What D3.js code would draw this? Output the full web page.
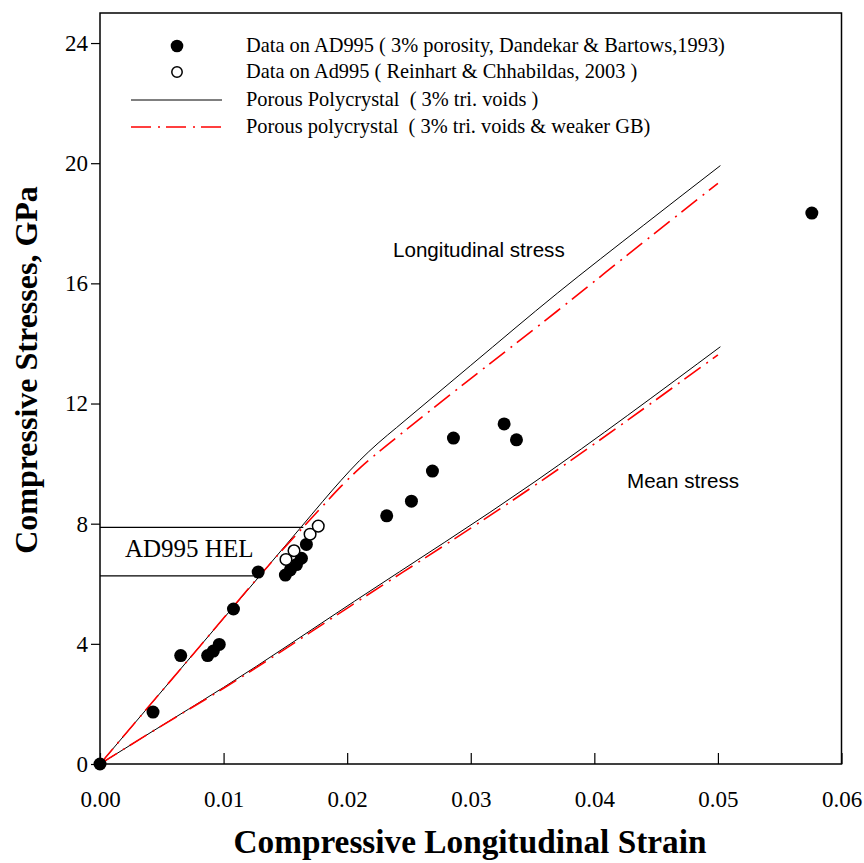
<!DOCTYPE html>
<html>
<head>
<meta charset="utf-8">
<script src="https://cdn.jsdelivr.net/npm/d3@7/dist/d3.min.js"></script>
<style>
  body { margin: 0; background: #fff; }
  text { white-space: pre; }
</style>
</head>
<body>
<svg id="chart" width="864" height="863"></svg>
<script>
'use strict';

// strain, GPa
var dandekarData = [
    [0, 0], [0.00429, 1.73], [0.00653, 3.61], [0.00871, 3.61], [0.00917, 3.76],
    [0.00965, 3.98], [0.0108, 5.16], [0.0128, 6.39], [0.0150, 6.29], [0.0154, 6.46],
    [0.0159, 6.64], [0.0163, 6.85], [0.0167, 7.31], [0.0232, 8.26], [0.0252, 8.75],
    [0.0269, 9.75], [0.0286, 10.85], [0.0327, 11.32], [0.0337, 10.79], [0.0576, 18.34]
];
var reinhartData = [[0.01505, 6.81], [0.0157, 7.10], [0.0170, 7.65], [0.01766, 7.92]];

var longSolid = [
    [0, 0], [0.008, 3.88], [0.0163, 7.90], [0.0180, 8.73], [0.0195, 9.44], [0.0210, 10.10],
    [0.0225, 10.68], [0.0240, 11.20], [0.0300, 13.27], [0.0370, 15.67], [0.0440, 17.94], [0.0502, 19.92]
];
var longWeakGB = [
    [0, 0], [0.008, 3.88], [0.01375, 6.66], [0.0163, 7.82], [0.0180, 8.58], [0.0195, 9.24],
    [0.0210, 9.84], [0.0225, 10.37], [0.0240, 10.87], [0.0260, 11.53], [0.0300, 12.83],
    [0.0370, 15.08], [0.0440, 17.38], [0.0500, 19.33]
];
var meanSolid = [[0, 0], [0.0043, 1.10], [0.010, 2.55], [0.0206, 5.42], [0.0352, 9.40], [0.0502, 13.89]];
var meanWeakGB = [[0, 0], [0.0043, 1.10], [0.010, 2.52], [0.0202, 5.24], [0.0352, 9.28], [0.0500, 13.62]];

var helLevels = [[0.01645, 7.88], [0.0124, 6.26]];

var xTicks = [0, 0.01, 0.02, 0.03, 0.04, 0.05, 0.06];
var yTicks = [0, 4, 8, 12, 16, 20, 24];

var legendLabels = [
    'Data on AD995 ( 3% porosity, Dandekar & Bartows,1993)',
    'Data on Ad995 ( Reinhart & Chhabildas, 2003 )',
    'Porous Polycrystal  ( 3% tri. voids )',
    'Porous polycrystal  ( 3% tri. voids & weaker GB)'
];

var serif = '"Liberation Serif", "Times New Roman", serif';
var sans = '"Liberation Sans", Arial, sans-serif';
var dashDot = '20,7,2,6';

var svg = d3.select('#chart');
var plotLeft = 100, plotTop = 13, plotRight = 841.5, plotBottom = 764;

var x = d3.scaleLinear().domain([0, 0.06]).range([plotLeft, plotRight]);
var y = d3.scaleLinear().domain([0, 25]).range([plotBottom, plotTop]);

var line = d3.line()
    .x(function(d) { return x(d[0]); })
    .y(function(d) { return y(d[1]); })
    .curve(d3.curveMonotoneX);

// axes
var xAxis = d3.axisBottom(x).tickValues(xTicks).tickSize(-11).tickPadding(35)
    .tickFormat(d3.format('.2f'));
var gx = svg.append('g').attr('transform', 'translate(0,' + plotBottom + ')').call(xAxis);
gx.select('.domain').remove();
gx.selectAll('line').attr('stroke', '#000').attr('stroke-width', 1.2);
gx.selectAll('text').attr('font-family', serif).attr('font-size', 23).attr('fill', '#000')
    .attr('dy', '0.35em');

var yAxis = d3.axisLeft(y).tickValues(yTicks).tickSize(9).tickPadding(3);
var gy = svg.append('g').attr('transform', 'translate(' + plotLeft + ',0)').call(yAxis);
gy.select('.domain').remove();
gy.selectAll('line').attr('stroke', '#000').attr('stroke-width', 1.2);
gy.selectAll('text').attr('font-family', serif).attr('font-size', 23).attr('fill', '#000');

svg.append('rect')
    .attr('x', plotLeft).attr('y', plotTop)
    .attr('width', plotRight - plotLeft).attr('height', plotBottom - plotTop)
    .attr('fill', 'none').attr('stroke', '#000').attr('stroke-width', 1.5);

// HEL box
svg.append('g').selectAll('line')
    .data(helLevels)
    .enter().append('line')
    .attr('x1', plotLeft).attr('x2', function(d) { return x(d[0]); })
    .attr('y1', function(d) { return y(d[1]); }).attr('y2', function(d) { return y(d[1]); })
    .attr('stroke', '#000').attr('stroke-width', 1.2);

svg.append('text').attr('x', 125).attr('y', 557)
    .attr('font-family', serif).attr('font-size', 25).text('AD995 HEL');

// model curves
[longSolid, meanSolid].forEach(function(s) {
    svg.append('path').datum(s).attr('d', line)
        .attr('fill', 'none').attr('stroke', '#000').attr('stroke-width', 1);
});
[longWeakGB, meanWeakGB].forEach(function(s) {
    svg.append('path').datum(s).attr('d', line)
        .attr('fill', 'none').attr('stroke', '#ff0000').attr('stroke-width', 1.6)
        .attr('stroke-dasharray', dashDot);
});

// data points
svg.append('g').selectAll('circle')
    .data(dandekarData)
    .enter().append('circle')
    .attr('cx', function(d) { return x(d[0]); })
    .attr('cy', function(d) { return y(d[1]); })
    .attr('r', 6.5).attr('fill', '#000');

svg.append('g').selectAll('circle')
    .data(reinhartData)
    .enter().append('circle')
    .attr('cx', function(d) { return x(d[0]); })
    .attr('cy', function(d) { return y(d[1]); })
    .attr('r', 5.8).attr('fill', '#fff').attr('stroke', '#000').attr('stroke-width', 1.5);

// curve annotations
svg.append('text').attr('x', 393).attr('y', 257)
    .attr('font-family', sans).attr('font-size', 20.6).text('Longitudinal stress');
svg.append('text').attr('x', 627).attr('y', 488)
    .attr('font-family', sans).attr('font-size', 20.6).text('Mean stress');

// legend
var legendY = [46, 72, 100, 127];
var legend = svg.append('g');
legend.append('circle').attr('cx', 177).attr('cy', legendY[0]).attr('r', 6.3).attr('fill', '#000');
legend.append('circle').attr('cx', 177).attr('cy', legendY[1]).attr('r', 5.2)
    .attr('fill', '#fff').attr('stroke', '#000').attr('stroke-width', 1.5);
legend.append('line').attr('x1', 131).attr('x2', 222).attr('y1', legendY[2]).attr('y2', legendY[2])
    .attr('stroke', '#000').attr('stroke-width', 1);
legend.append('line').attr('x1', 131).attr('x2', 222).attr('y1', legendY[3]).attr('y2', legendY[3])
    .attr('stroke', '#ff0000').attr('stroke-width', 1.6).attr('stroke-dasharray', dashDot);
legend.selectAll('text')
    .data(legendLabels)
    .enter().append('text')
    .attr('x', 246)
    .attr('y', function(d, i) { return legendY[i] + 6; })
    .attr('font-family', serif).attr('font-size', 20.4)
    .text(function(d) { return d; });

// axis titles
svg.append('text').attr('x', 470).attr('y', 853)
    .attr('text-anchor', 'middle').attr('font-family', serif).attr('font-weight', 'bold')
    .attr('font-size', 33.3).text('Compressive Longitudinal Strain');
svg.append('text').attr('transform', 'translate(37,370) rotate(-90)')
    .attr('text-anchor', 'middle').attr('font-family', serif).attr('font-weight', 'bold')
    .attr('font-size', 32).text('Compressive Stresses, GPa');
</script>
</body>
</html>
